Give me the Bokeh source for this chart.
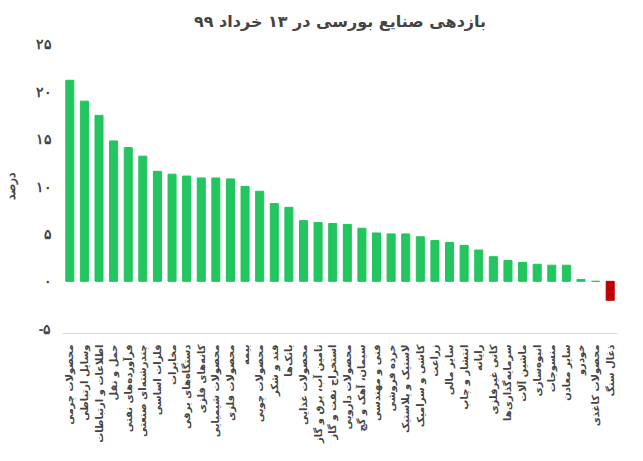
import math
from bokeh.plotting import figure
from bokeh.embed import file_html
from bokeh.resources import INLINE
from bokeh.models import FixedTicker, Range1d

categories = ["محصولات چرمی","وسایل ارتباطی","اطلاعات و ارتباطات","حمل و نقل","فرآورده‌های نفتی","چندرشته‌ای صنعتی",
 "فلزات اساسی","مخابرات","دستگاه‌های برقی","کانه‌های فلزی","محصولات شیمیایی","محصولات فلزی","بیمه","محصولات چوبی",
 "قند و شکر","بانک‌ها","محصولات غذایی","تامین آب، برق و گاز","استخراج نفت و گاز","محصولات دارویی","سیمان، آهک و گچ",
 "فنی و مهندسی","خرده فروشی","لاستیک و پلاستیک","کاشی و سرامیک","زراعت","سایر مالی","انتشار و چاپ","رایانه",
 "کانی غیرفلزی","سرمایه‌گذاری‌ها","ماشین آلات","انبوه‌سازی","منسوجات","سایر معادن","خودرو","محصولات کاغذی","ذغال سنگ"]
values = [21.2,19.0,17.5,14.8,14.1,13.2,11.6,11.3,11.1,10.9,10.9,10.8,10.0,9.5,8.2,7.8,6.4,6.2,6.1,6.0,5.6,
 5.1,5.0,5.0,4.7,4.3,4.1,3.8,3.3,2.6,2.2,2.0,1.8,1.7,1.7,0.2,0.0,-2.0]
colors = ["#22c55e" if v >= 0 else "#c00000" for v in values]
ticks = [-5,0,5,10,15,20,25]
tick_labels = ["-۵","۰","۵","۱۰","۱۵","۲۰","۲۵"]

p = figure(x_range=categories, width=627, height=445, output_backend="svg", toolbar_location=None,
           title="بازدهی صنایع بورسی در ۱۳ خرداد ۹۹")
p.y_range = Range1d(-5.5, 25.5)
p.vbar(x=categories, top=values, width=0.55, color=colors)
p.title.align = "center"
p.title.text_font = "DejaVu Sans"
p.title.text_font_size = "16px"
p.title.text_font_style = "bold"
p.title.standoff = 18
p.yaxis.ticker = FixedTicker(ticks=ticks)
p.yaxis.major_label_overrides = {t: l for t, l in zip(ticks, tick_labels)}
p.yaxis.axis_label = "درصد"
p.yaxis.axis_label_text_font_style = "bold"
p.yaxis.axis_label_text_font_size = "12px"
p.yaxis.axis_label_standoff = 15
p.yaxis.major_label_text_font_style = "bold"
p.yaxis.major_label_text_font_size = "14px"
p.yaxis.axis_line_color = None
p.yaxis.major_tick_line_color = None
p.yaxis.minor_tick_line_color = None
p.xaxis.major_label_orientation = math.pi / 2
p.xaxis.major_label_text_font_size = "10px"
p.xaxis.major_label_text_font_style = "bold"
p.xaxis.major_label_text_font = "DejaVu Sans"
p.xaxis.major_tick_line_color = None
p.xaxis.axis_line_color = "#d9d9d9"
p.xgrid.grid_line_color = None
p.ygrid.grid_line_color = None
p.outline_line_color = None
p.min_border_left = 30
p.min_border_right = 10
p.min_border_top = 20
open("out.html", "w").write(file_html(p, INLINE))
